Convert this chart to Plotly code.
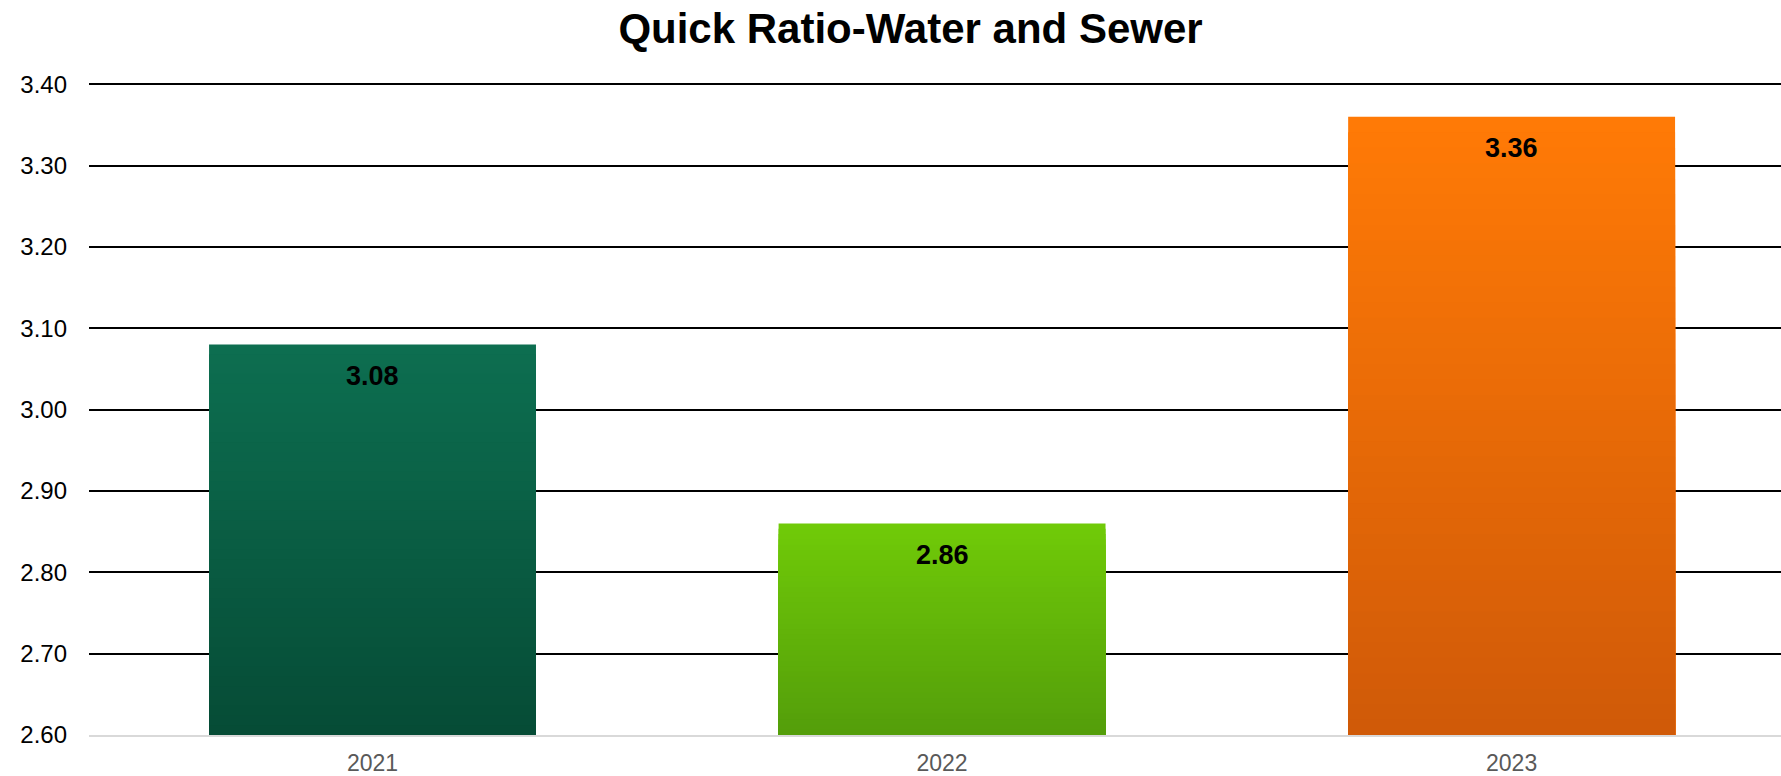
import plotly.graph_objects as go

# ---- data ----
years = ["2021", "2022", "2023"]
quick_ratio = [3.08, 2.86, 3.36]
value_labels = ["3.08", "2.86", "3.36"]
y_ticks = [2.6, 2.7, 2.8, 2.9, 3.0, 3.1, 3.2, 3.3, 3.4]
y_tick_labels = ["2.60", "2.70", "2.80", "2.90", "3.00", "3.10", "3.20", "3.30", "3.40"]

# ---- style ----
top_colors = [(13, 110, 80), (112, 202, 8), (255, 122, 6)]
bottom_colors = [(6, 76, 54), (84, 158, 10), (208, 90, 8)]
base_value = 2.6
n_layers = 40
bar_width = 0.574

def lerp(c0, c1, t):
    return "rgb({},{},{})".format(*[round(a + (b - a) * t) for a, b in zip(c0, c1)])

fig = go.Figure()
x_idx = list(range(len(years)))
# gradient: draw tallest (top colour) first, progressively shorter bars in darker colours on top
for k in range(n_layers):
    frac = 1 - k / n_layers
    t = k / (n_layers - 1)
    fig.add_trace(go.Bar(
        x=x_idx,
        y=[(v - base_value) * frac for v in quick_ratio],
        base=[base_value] * len(quick_ratio),
        width=bar_width,
        marker=dict(color=[lerp(tc, bc, t) for tc, bc in zip(top_colors, bottom_colors)],
                    line=dict(width=0)),
        hoverinfo="skip" if k else "y",
        showlegend=False,
    ))

# value labels at top inside of bars
for i, (v, lab) in enumerate(zip(quick_ratio, value_labels)):
    fig.add_annotation(x=i, y=v, text="<b>" + lab + "</b>", showarrow=False,
                       yanchor="middle", yshift=-31,
                       font=dict(family="Liberation Sans, Arial", size=27, color="#000000"))

fig.update_layout(
    width=1781, height=776,
    margin=dict(l=89, r=0, t=83, b=41, autoexpand=False),
    barmode="overlay",
    plot_bgcolor="white", paper_bgcolor="white",
    title=dict(text="<b>Quick Ratio-Water and Sewer</b>", x=910.5 / 1781, xanchor="center",
               y=1 - 28 / 776, yanchor="middle",
               font=dict(family="Liberation Sans, Arial", size=42, color="#000000")),
    xaxis=dict(
        tickmode="array", tickvals=x_idx, ticktext=years,
        range=[-0.4978, 2.473], automargin=False,
        showgrid=False, zeroline=False,
        showline=True, linecolor="#d9d9d9", linewidth=2,
        ticks="", ticklabelstandoff=6,
        tickfont=dict(family="Liberation Sans, Arial", size=23, color="#595959"),
    ),
    yaxis=dict(
        range=[2.6, 3.4015], automargin=False,
        tickmode="array", tickvals=y_ticks, ticktext=y_tick_labels,
        showgrid=True, gridcolor="#000000", gridwidth=1.5,
        zeroline=False, showline=False, ticks="", ticklabelstandoff=21,
        tickfont=dict(family="Liberation Sans, Arial", size=24, color="#000000"),
    ),
)

fig.write_html("out.html", config={"displayModeBar": False},
               post_script="document.body.style.margin='0';document.body.style.overflow='hidden';")
